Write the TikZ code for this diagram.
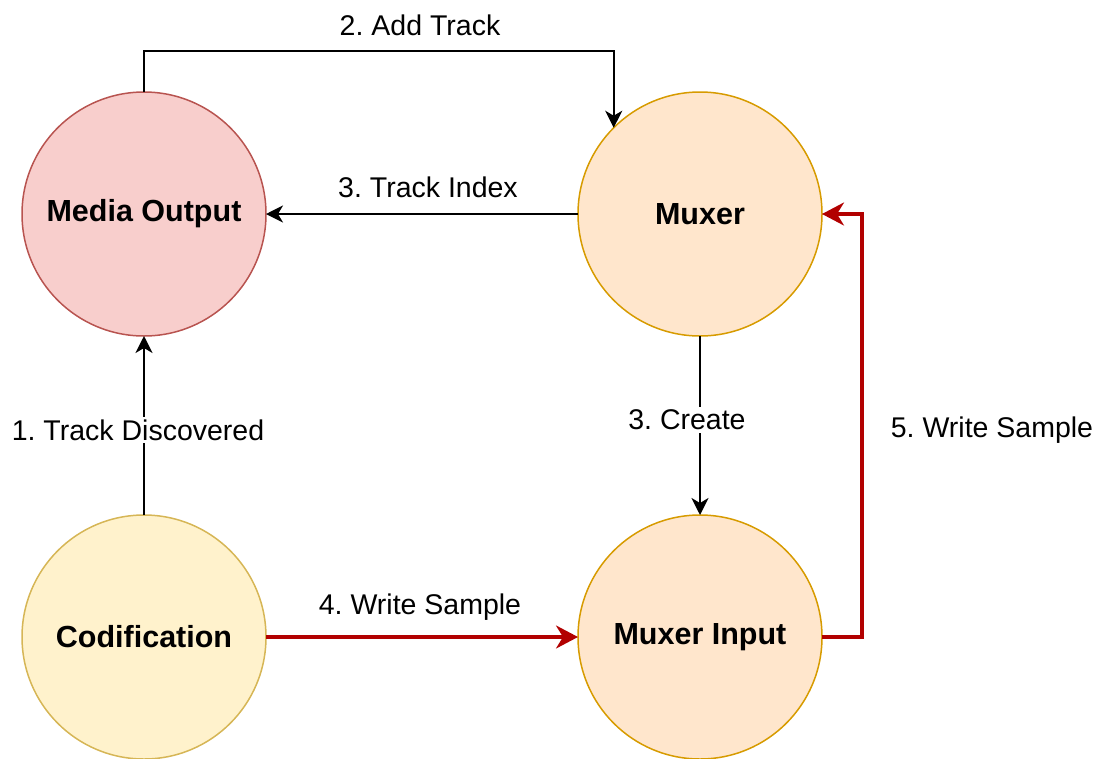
\documentclass[tikz,border=0pt]{standalone}
\usepackage{fontspec}
\setmainfont{Liberation Sans}
\usetikzlibrary{arrows.meta}
\frenchspacing

\definecolor{outFill}{HTML}{F8CECC}
\definecolor{outLine}{HTML}{B85450}
\definecolor{muxFill}{HTML}{FFE6CC}
\definecolor{muxLine}{HTML}{D79B00}
\definecolor{codFill}{HTML}{FFF2CC}
\definecolor{codLine}{HTML}{D6B656}
\definecolor{flowRed}{HTML}{B20000}

\tikzset{
  stage/.style={circle, minimum size=244pt, inner sep=0pt, outer sep=0pt,
    line width=1.5pt, font=\fontsize{30.5}{36}\selectfont\bfseries},
  plainarrow/.style={draw=black, line width=1.8pt,
    -{Stealth[length=17pt, width=17pt, inset=5pt]}},
  redarrow/.style={draw=flowRed, line width=3.2pt,
    -{Stealth[length=22pt, width=23pt, inset=7pt]}},
  steplabel/.style={font=\fontsize{28.5}{34}\selectfont, inner sep=2pt},
  cutlabel/.style={steplabel, fill=white, inner sep=3pt}
}

\begin{document}
\begin{tikzpicture}[x=1pt, y=-1pt]
  \useasboundingbox (0,0) rectangle (1106,758);

  % stages
  \node[stage, fill=outFill, draw=outLine] (mo)  at (144,214) {Media Output};
  \node[stage, fill=muxFill, draw=muxLine] (mx)  at (700,214) {Muxer};
  \node[stage, fill=codFill, draw=codLine] (cod) at (144,637) {Codification};
  \node[stage, fill=muxFill, draw=muxLine] (mi)  at (700,637) {Muxer Input};

  % 2. Add Track
  \draw[plainarrow] (mo.north) -- ++(0,-41) -| (mx.135);
  \node[steplabel] (lAdd) at (420,25) {2. Add Track};

  % 3. Track Index
  \draw[plainarrow] (mx.west) -- (mo.east);
  \node[steplabel] (lIdx) at (428,187) {3. Track Index};

  % 1. Track Discovered
  \draw[plainarrow] (cod.north) -- (mo.south);
  \node[cutlabel] (lDisc) at (138,430) {1. Track Discovered};

  % 3. Create
  \draw[plainarrow] (mx.south) -- (mi.north);
  \node[cutlabel] (lCreate) at (687,420) {3. Create};

  % 4. Write Sample
  \draw[redarrow] (cod.east) -- (mi.west);
  \node[steplabel] (lW4) at (420,607) {4. Write Sample};

  % 5. Write Sample
  \draw[redarrow] (mi.east) -- ++(40,0) |- (mx.east);
  \node[steplabel] (lW5) at (992,430) {5. Write Sample};
\end{tikzpicture}
\end{document}
